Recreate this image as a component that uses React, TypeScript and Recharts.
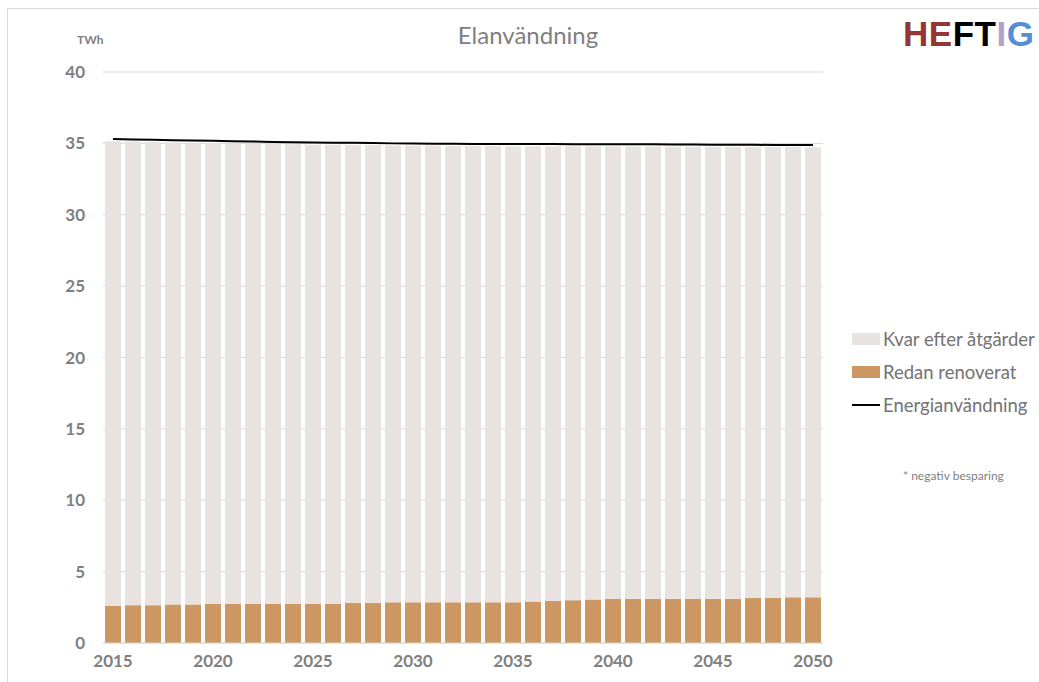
import { Bar, CartesianGrid, ComposedChart, Line, XAxis, YAxis } from "recharts";

const years = [
  "2015", "2016", "2017", "2018", "2019", "2020", "2021", "2022", "2023", "2024",
  "2025", "2026", "2027", "2028", "2029", "2030", "2031", "2032", "2033", "2034",
  "2035", "2036", "2037", "2038", "2039", "2040", "2041", "2042", "2043", "2044",
  "2045", "2046", "2047", "2048", "2049", "2050",
];

// TWh already renovated
const redanRenoverat = [
  2.6, 2.65, 2.65, 2.7, 2.7, 2.75, 2.75, 2.75, 2.75, 2.75,
  2.75, 2.75, 2.8, 2.8, 2.85, 2.85, 2.85, 2.85, 2.85, 2.85,
  2.85, 2.9, 2.95, 3.0, 3.05, 3.1, 3.1, 3.1, 3.1, 3.1,
  3.1, 3.1, 3.15, 3.15, 3.2, 3.2,
];

// TWh left after measures
const kvarEfterAtgarder = [
  32.55, 32.48, 32.45, 32.37, 32.35, 32.28, 32.25, 32.23, 32.2, 32.18,
  32.16, 32.15, 32.09, 32.08, 32.0, 31.99, 31.98, 31.97, 31.96, 31.96,
  31.95, 31.9, 31.85, 31.79, 31.74, 31.69, 31.68, 31.68, 31.67, 31.67,
  31.65, 31.65, 31.6, 31.59, 31.54, 31.53,
];

// total electricity use
const energianvandning = [
  35.3, 35.28, 35.25, 35.22, 35.2, 35.18, 35.15, 35.13, 35.1, 35.08,
  35.06, 35.05, 35.04, 35.03, 35.0, 34.99, 34.98, 34.97, 34.96, 34.96,
  34.95, 34.95, 34.95, 34.94, 34.94, 34.94, 34.93, 34.93, 34.92, 34.92,
  34.9, 34.9, 34.9, 34.89, 34.89, 34.88,
];

const yTicks = [0, 5, 10, 15, 20, 25, 30, 35, 40];

const data = years.map((year, i) => ({
  year,
  redan: redanRenoverat[i],
  kvar: kvarEfterAtgarder[i],
  energi: energianvandning[i],
}));

const FONT = "Lato, 'Open Sans', sans-serif";
const KVAR = "#e8e3e1";
const REDAN = "#cc9763";

const legendItems = [
  { label: "Kvar efter åtgärder", color: KVAR, kind: "box" },
  { label: "Redan renoverat", color: REDAN, kind: "box" },
  { label: "Energianvändning", color: "#000000", kind: "line" },
];

function ChartLegend() {
  return (
    <div style={{ fontFamily: FONT, fontSize: 18.5, color: "#737373" }}>
      {legendItems.map((item) => (
        <div key={item.label} style={{ display: "flex", alignItems: "center", height: 33 }}>
          <div
            style={{
              width: 28,
              height: item.kind === "box" ? 12 : 2,
              background: item.color,
              marginRight: 3,
            }}
          />
          <span>{item.label}</span>
        </div>
      ))}
    </div>
  );
}

export default function App() {
  return (
    <div style={{ position: "fixed", left: 0, top: 0, width: 1039, height: 682, background: "#fff", overflow: "hidden" }}>
      <div
        style={{
          position: "absolute",
          left: 7,
          top: 8,
          width: 1100,
          height: 800,
          borderTop: "1px solid #d9d9d9",
          borderLeft: "1px solid #d9d9d9",
        }}
      />
      <div style={{ position: "absolute", left: 0, top: 0 }}>
        <ComposedChart
          width={1039}
          height={682}
          data={data}
          margin={{ top: 72, right: 216, bottom: 0, left: 0 }}
          barSize={16}
        >
          <CartesianGrid vertical={false} stroke="#d9d9d9" />
          <XAxis
            dataKey="year"
            interval={4}
            height={39}
            tickSize={0}
            tickMargin={12}
            axisLine={{ stroke: "#d9d9d9" }}
            tick={{ fill: "#808080", fontFamily: FONT, fontSize: 17, fontWeight: 700 }}
          />
          <YAxis
            width={103}
            domain={[0, 40]}
            ticks={yTicks}
            tickSize={0}
            tickMargin={18}
            axisLine={false}
            tick={{ fill: "#808080", fontFamily: FONT, fontSize: 17, fontWeight: 700 }}
          />
          <Bar dataKey="redan" stackId="a" fill={REDAN} isAnimationActive={false} />
          <Bar dataKey="kvar" stackId="a" fill={KVAR} isAnimationActive={false} />
          <Line
            type="linear"
            dataKey="energi"
            stroke="#000000"
            strokeWidth={2}
            dot={false}
            isAnimationActive={false}
          />
        </ComposedChart>
      </div>
      <div style={{ position: "absolute", left: 852, top: 322 }}>
        <ChartLegend />
      </div>
      <div
        style={{
          position: "absolute",
          left: 328,
          width: 400,
          top: 20,
          textAlign: "center",
          fontFamily: FONT,
          fontSize: 24,
          color: "#808080",
        }}
      >
        Elanvändning
      </div>
      <div
        style={{
          position: "absolute",
          left: 77,
          top: 32,
          fontFamily: FONT,
          fontSize: 12,
          fontWeight: 700,
          color: "#808080",
        }}
      >
        TWh
      </div>
      <div
        style={{
          position: "absolute",
          left: 903,
          top: 14,
          fontFamily: "'Liberation Sans', Arial, sans-serif",
          fontSize: 35,
          fontWeight: 700,
          letterSpacing: 0.5,
        }}
      >
        <span style={{ color: "#943634" }}>HE</span>
        <span style={{ color: "#000000" }}>FT</span>
        <span style={{ color: "#b3a2c7" }}>I</span>
        <span style={{ color: "#558ed5" }}>G</span>
      </div>
      <div
        style={{
          position: "absolute",
          left: 903,
          top: 468,
          fontFamily: FONT,
          fontSize: 12,
          color: "#808080",
        }}
      >
        * negativ besparing
      </div>
    </div>
  );
}
